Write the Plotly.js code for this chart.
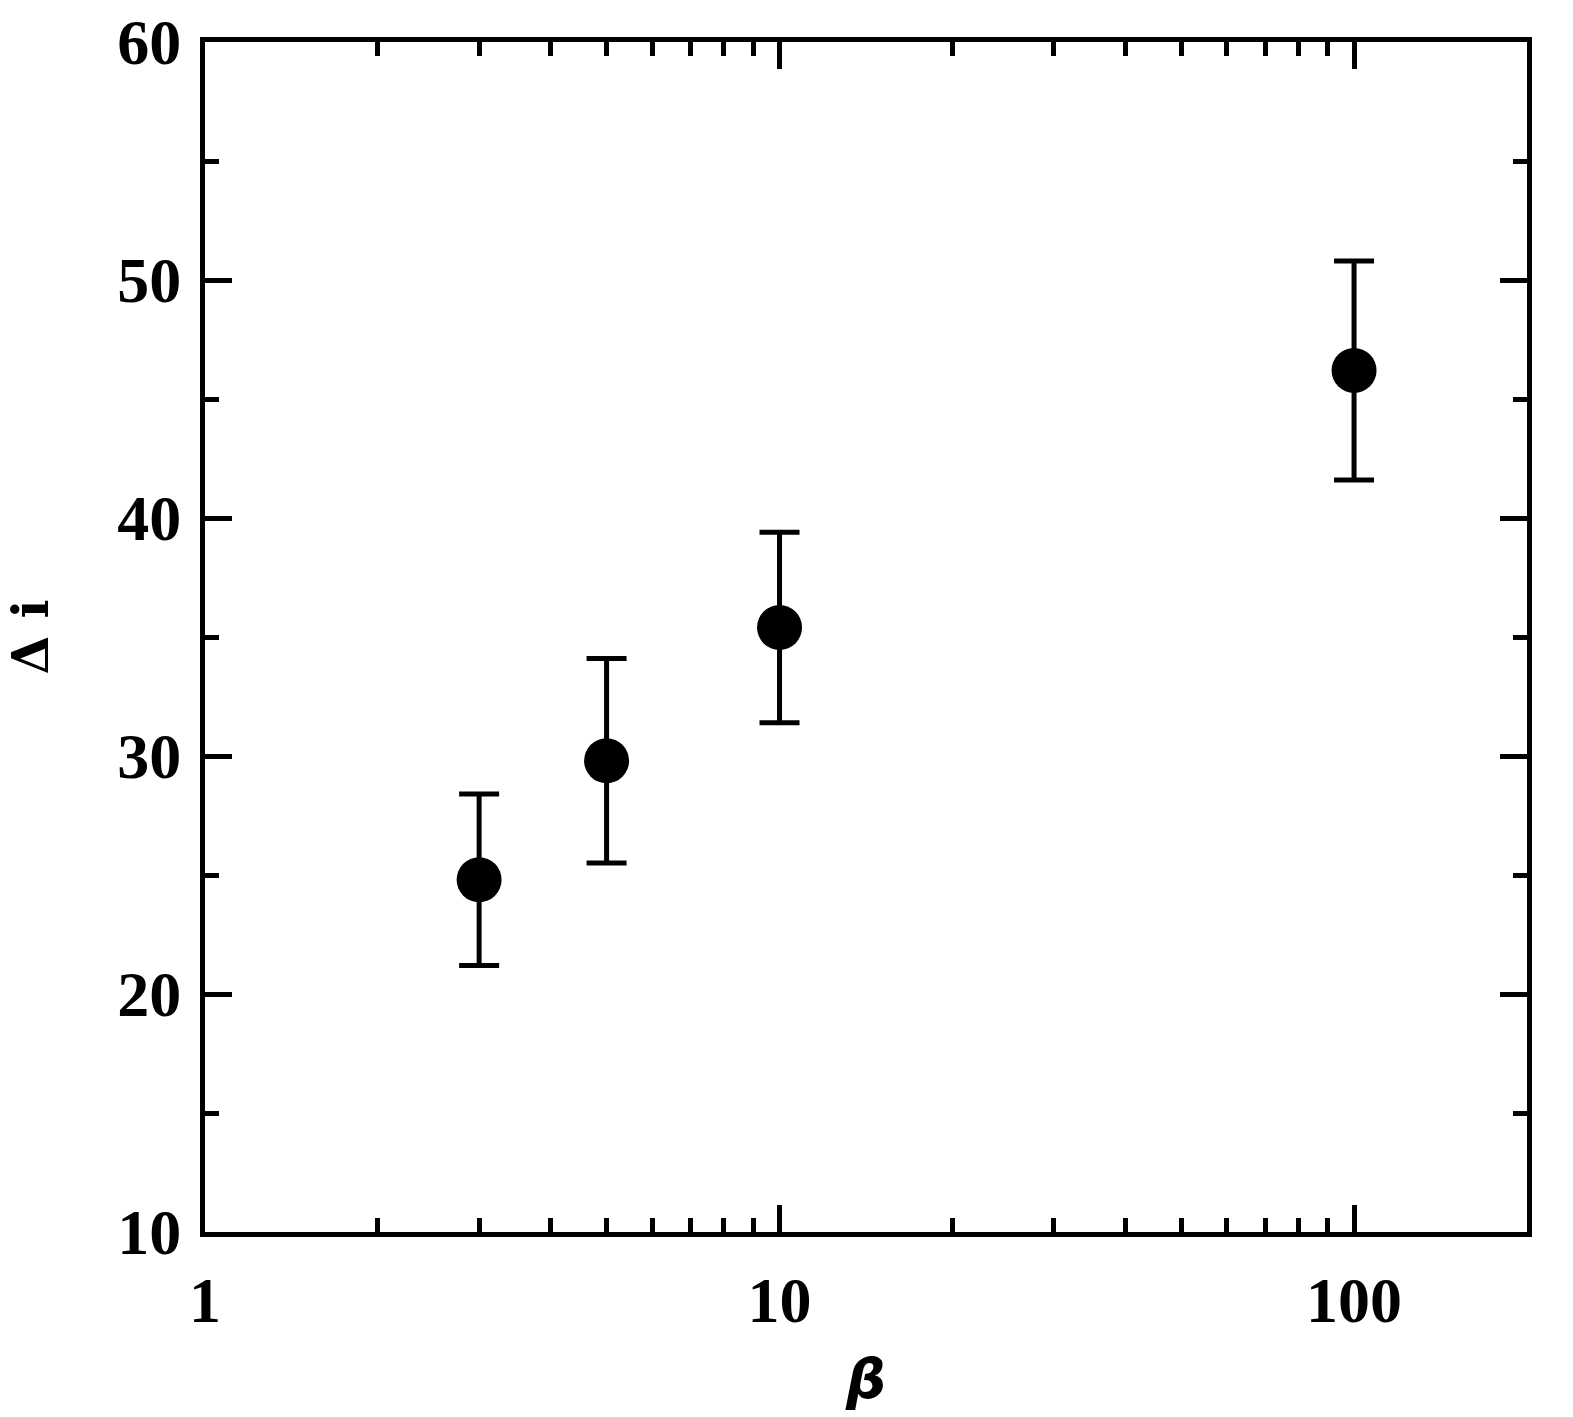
<!DOCTYPE html>
<html>
<head>
<meta charset="utf-8">
<script src="https://cdn.plot.ly/plotly-3.0.1.min.js"></script>
<style>html,body{margin:0;padding:0;background:#fff;}#plot{width:1573px;height:1417px;}</style>
</head>
<body>
<div id="plot"></div>
<script>
const beta = [3, 5, 10, 100];
const deltaI = [24.8, 29.8, 35.4, 46.2];
const errPlus = [3.6, 4.3, 4.0, 4.6];
const errMinus = [3.6, 4.3, 4.0, 4.6];
const xTickVals = [1, 10, 100];
const xTickText = ['1', '10', '100'];
const yTickVals = [10, 20, 30, 40, 50, 60];

const trace = {
  x: beta, y: deltaI, type: 'scatter', mode: 'markers',
  marker: {size: 45, color: '#000'},
  error_y: {type: 'data', symmetric: false, array: errPlus, arrayminus: errMinus,
            color: '#000', thickness: 5, width: 20},
  showlegend: false, hoverinfo: 'skip'
};
const font = {family: 'Liberation Serif, serif', size: 64, color: '#000', weight: 'bold'};
const layout = {
  width: 1573, height: 1417,
  margin: {l: 205, r: 46, t: 42, b: 185},
  paper_bgcolor: '#fff', plot_bgcolor: '#fff',
  font: font,
  xaxis: {
    type: 'log', range: [0, Math.log10(200)],
    tickvals: xTickVals, ticktext: xTickText,
    ticks: 'inside', ticklen: 27, tickwidth: 5, tickcolor: '#000',
    showline: true, linewidth: 5, linecolor: '#000', mirror: 'ticks',
    showgrid: false, zeroline: false,
    minor: {dtick: 'D1', ticks: 'inside', ticklen: 14, tickwidth: 5, tickcolor: '#000', showgrid: false},
    ticklabelstandoff: 8,
    tickfont: font,
    title: {text: '<i>β</i>', font: {family: 'DejaVu Sans, sans-serif', size: 56, color: '#000', weight: 'bold'}, standoff: 26}
  },
  yaxis: {
    range: [10, 60], tickvals: yTickVals,
    ticks: 'inside', ticklen: 27, tickwidth: 5, tickcolor: '#000',
    showline: true, linewidth: 5, linecolor: '#000', mirror: 'ticks',
    showgrid: false, zeroline: false,
    minor: {dtick: 5, ticks: 'inside', ticklen: 14, tickwidth: 5, tickcolor: '#000', showgrid: false},
    ticklabelstandoff: 6,
    tickfont: font,
    title: {text: 'Δ i', font: {family: 'DejaVu Serif, serif', size: 50, color: '#000', weight: 'bold'}, standoff: 54}
  }
};
Plotly.newPlot('plot', [trace], layout, {staticPlot: true});
</script>
</body>
</html>
